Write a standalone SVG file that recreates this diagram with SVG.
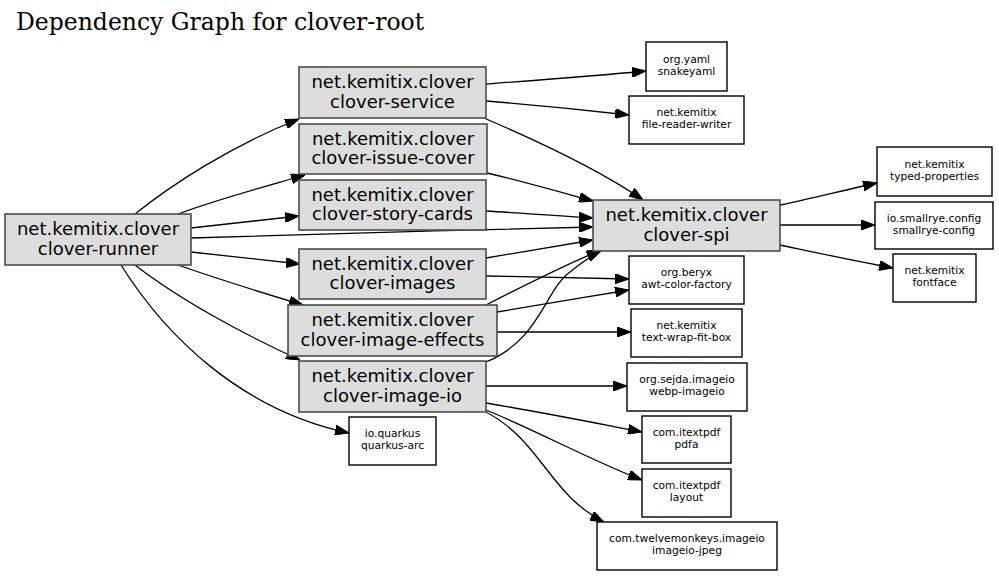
<svg xmlns="http://www.w3.org/2000/svg" width="999" height="576" viewBox="0 0 999 576">
<style>
.big rect{fill:#dddddd;stroke:#4d4d4d;stroke-width:1.6}
.small rect{fill:#ffffff;stroke:#000000;stroke-width:1.4}
.big text{font-family:"DejaVu Sans",sans-serif;font-size:18px;text-anchor:middle;fill:#000}
.small text{font-family:"DejaVu Sans",sans-serif;font-size:10.7px;text-anchor:middle;fill:#000}
.title{font-family:"DejaVu Serif",serif;font-size:23.5px;fill:#000}
#edges path{fill:none;stroke:#000;stroke-width:1.3;marker-end:url(#ah)}
</style>
<defs>
<marker id="ah" markerUnits="userSpaceOnUse" markerWidth="14" markerHeight="10" refX="14" refY="5" orient="auto" viewBox="0 0 14 10">
<path d="M0,0 L14,5 L0,10 Z" fill="#000" stroke="#000" stroke-width="1"/>
</marker>
</defs>
<rect width="999" height="576" fill="#ffffff"/>
<text class="title" x="16" y="30">Dependency Graph for clover-root</text>
<g id="edges">
<path d="M135,214 C170,186 230,146 299,119"/>
<path d="M178,214 C215,200 260,188 305,175"/>
<path d="M191,228 C225,224 262,220 299,216"/>
<path d="M191,238 C320,234 460,230 593,227"/>
<path d="M191,252 C225,256 262,260 300,264"/>
<path d="M178,265 C215,278 260,292 303,305"/>
<path d="M135,265 C180,300 245,335 300,360"/>
<path d="M121,265 C165,335 240,410 349,433"/>
<path d="M486,84 C540,80 595,76 646,71"/>
<path d="M486,101 C535,105 585,110 629,115"/>
<path d="M484,118 C540,142 600,170 643,200"/>
<path d="M487,173 C525,182 560,192 593,201"/>
<path d="M486,211 C522,213 558,216 593,218"/>
<path d="M486,258 C522,252 558,246 593,240"/>
<path d="M486,276 C535,277 585,278 629,279"/>
<path d="M486,305 C525,285 565,265 601,250"/>
<path d="M497,312 C540,305 585,297 629,290"/>
<path d="M497,332 C545,332 590,332 631,332"/>
<path d="M486,362 C540,340 545,290 570,272 C580,264 590,256 601,251"/>
<path d="M486,386 C535,386 580,386 627,386"/>
<path d="M486,403 C540,412 590,422 642,432"/>
<path d="M486,410 C540,432 590,460 642,480"/>
<path d="M486,412 C540,440 550,495 604,522"/>
<path d="M780,205 C813,198 845,190 877,183"/>
<path d="M780,225 C812,225 843,225 875,225"/>
<path d="M780,245 C818,253 855,261 893,268"/>
</g>
<g id="runner" class="big"><rect x="5" y="214" width="186" height="51"/><text x="98" y="235">net.kemitix.clover</text><text x="98" y="254.5">clover-runner</text></g>
<g id="service" class="big"><rect x="299" y="67" width="187" height="51"/><text x="392.5" y="88">net.kemitix.clover</text><text x="392.5" y="107.5">clover-service</text></g>
<g id="issue-cover" class="big"><rect x="299" y="124" width="188" height="50"/><text x="393" y="145">net.kemitix.clover</text><text x="393" y="164">clover-issue-cover</text></g>
<g id="story-cards" class="big"><rect x="299" y="180" width="187" height="50"/><text x="392.5" y="201">net.kemitix.clover</text><text x="392.5" y="220">clover-story-cards</text></g>
<g id="images" class="big"><rect x="299" y="249" width="187" height="50"/><text x="392.5" y="270">net.kemitix.clover</text><text x="392.5" y="289">clover-images</text></g>
<g id="image-effects" class="big"><rect x="288" y="305" width="209" height="51"/><text x="392.5" y="326">net.kemitix.clover</text><text x="392.5" y="345.5">clover-image-effects</text></g>
<g id="image-io" class="big"><rect x="299" y="361" width="187" height="51"/><text x="392.5" y="382">net.kemitix.clover</text><text x="392.5" y="401.5">clover-image-io</text></g>
<g id="spi" class="big"><rect x="593" y="200" width="187" height="51"/><text x="686.5" y="221">net.kemitix.clover</text><text x="686.5" y="240.5">clover-spi</text></g>
<g id="snakeyaml" class="small"><rect x="646" y="42" width="81" height="49"/><text x="686.5" y="62.5">org.yaml</text><text x="686.5" y="74.5">snakeyaml</text></g>
<g id="file-reader-writer" class="small"><rect x="629" y="96" width="115" height="48"/><text x="686.5" y="116">net.kemitix</text><text x="686.5" y="128">file-reader-writer</text></g>
<g id="typed-properties" class="small"><rect x="877" y="147" width="115" height="49"/><text x="934.5" y="167.5">net.kemitix</text><text x="934.5" y="179.5">typed-properties</text></g>
<g id="smallrye-config" class="small"><rect x="875" y="202" width="118" height="47"/><text x="934" y="221.5">io.smallrye.config</text><text x="934" y="233.5">smallrye-config</text></g>
<g id="fontface" class="small"><rect x="893" y="254" width="83" height="48"/><text x="934.5" y="274">net.kemitix</text><text x="934.5" y="286">fontface</text></g>
<g id="awt-color-factory" class="small"><rect x="629" y="256" width="115" height="48"/><text x="686.5" y="276">org.beryx</text><text x="686.5" y="288">awt-color-factory</text></g>
<g id="text-wrap-fit-box" class="small"><rect x="631" y="309" width="111" height="48"/><text x="686.5" y="329">net.kemitix</text><text x="686.5" y="341">text-wrap-fit-box</text></g>
<g id="webp-imageio" class="small"><rect x="627" y="363" width="120" height="48"/><text x="687" y="383">org.sejda.imageio</text><text x="687" y="395">webp-imageio</text></g>
<g id="quarkus-arc" class="small"><rect x="349" y="417" width="87" height="48"/><text x="392.5" y="437">io.quarkus</text><text x="392.5" y="449">quarkus-arc</text></g>
<g id="pdfa" class="small"><rect x="642" y="416" width="89" height="47"/><text x="686.5" y="435.5">com.itextpdf</text><text x="686.5" y="447.5">pdfa</text></g>
<g id="layout" class="small"><rect x="642" y="469" width="89" height="48"/><text x="686.5" y="489">com.itextpdf</text><text x="686.5" y="501">layout</text></g>
<g id="imageio-jpeg" class="small"><rect x="597" y="522" width="180" height="48"/><text x="687" y="542">com.twelvemonkeys.imageio</text><text x="687" y="554">imageio-jpeg</text></g>
</svg>
